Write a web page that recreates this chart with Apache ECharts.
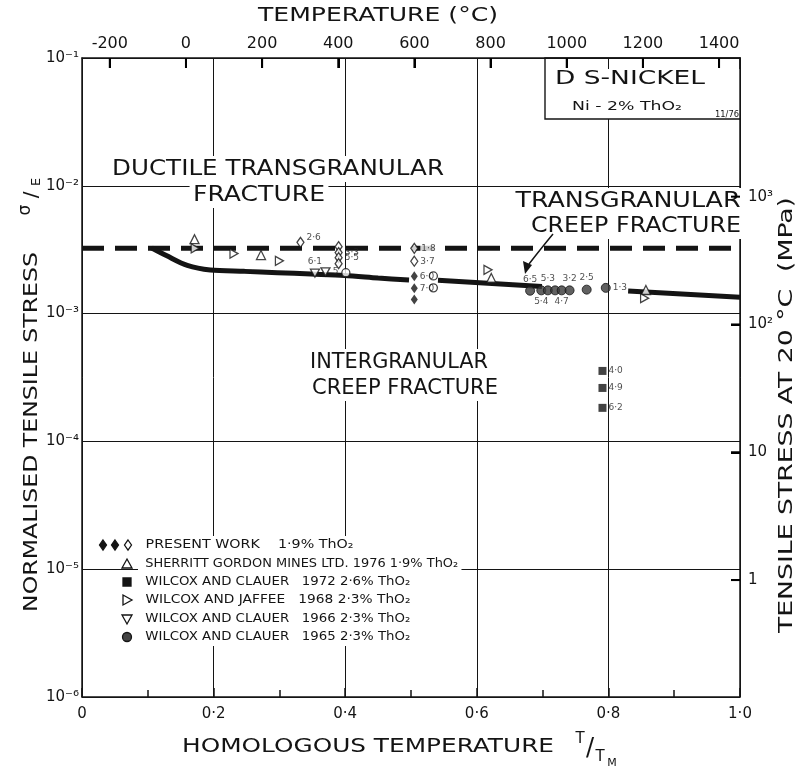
<!DOCTYPE html>
<html><head><meta charset="utf-8">
<script src="https://cdn.jsdelivr.net/npm/echarts@6/dist/echarts.min.js"></script>
<style>html,body{margin:0;padding:0;background:#fff}#c{width:807px;height:771px}</style>
</head><body><div id="c"></div>
<script>
// ---------------- DATA ----------------
const xTickValues = [0, 0.2, 0.4, 0.6, 0.8, 1.0];
const xTickLabels = ['0', '0·2', '0·4', '0·6', '0·8', '1·0'];
const leftExponents = [-6, -5, -4, -3, -2, -1];
const leftTickLabels = ['10⁻⁶', '10⁻⁵', '10⁻⁴', '10⁻³', '10⁻²', '10⁻¹'];
const tempTicks = [-200, 0, 200, 400, 600, 800, 1000, 1200, 1400];
const tempRange = [-273, 1455];            // 0 K .. melting point of Ni (°C)
const rightTicks = [1, 2, 3, 4];            // decades of MPa, counted from 0.1 MPa (1 + log10 MPa)
const rightTickLabels = ['1', '10', '10²', '10³'];
const rightRange = [0.085, 5.085];          // same span as 1e-6 .. 1e-1 on the left

const ductileLimit = [[0, 3.25e-3], [1.0, 3.25e-3]];
const creepBoundary = [
  [0.106, 3.26e-3], [0.129, 2.83e-3], [0.160, 2.38e-3], [0.195, 2.19e-3],
  [0.247, 2.14e-3], [0.297, 2.09e-3], [0.348, 2.04e-3], [0.399, 1.99e-3],
  [0.450, 1.90e-3], [0.497, 1.83e-3], [0.52, '-'], [0.541, 1.82e-3],
  [0.699, 1.63e-3], [0.76, '-'], [0.830, 1.50e-3], [1.0, 1.34e-3]
];

const presentOpen = [[0.332, 3.61e-3], [0.390, 3.34e-3], [0.390, 3.00e-3], [0.390, 2.74e-3],
                     [0.390, 2.46e-3], [0.505, 3.24e-3], [0.505, 2.57e-3]];
const presentOpenLabels = ['2·6', '', '3·3', '5·5', '', '1·8', '3·7'];
const presentFilled = [[0.505, 1.96e-3], [0.505, 1.58e-3], [0.505, 1.29e-3]];
const presentFilledLabels = ['6·0', '7·0', ''];
const openCircles = [[0.401, 2.09e-3], [0.534, 1.97e-3], [0.534, 1.59e-3]];

const sherritt1976 = [[0.171, 3.82e-3], [0.272, 2.87e-3], [0.622, 1.90e-3], [0.857, 1.53e-3]];
const jaffee1968 = [[0.172, 3.24e-3], [0.231, 2.95e-3], [0.300, 2.59e-3], [0.617, 2.20e-3], [0.855, 1.32e-3]];
const clauer1966 = [[0.354, 2.07e-3], [0.370, 2.12e-3]];
const clauer1966Labels = ['6·1', '5'];
const clauer1965 = [[0.681, 1.51e-3], [0.698, 1.52e-3], [0.708, 1.52e-3], [0.719, 1.52e-3],
                    [0.729, 1.52e-3], [0.741, 1.52e-3], [0.767, 1.54e-3], [0.796, 1.59e-3]];
const clauer1965Labels = ['6·5', '5·4', '5·3', '', '4·7', '3·2', '2·5', '1·3'];
const clauer1965LabelPos = ['top', 'bottom', 'top', 'top', 'bottom', 'top', 'top', 'right'];
const clauer1972 = [[0.791, 3.56e-4], [0.791, 2.62e-4], [0.791, 1.83e-4]];
const clauer1972Labels = ['4·0', '4·9', '6·2'];

const legendRows = [
  'PRESENT WORK    1·9% ThO₂',
  'SHERRITT GORDON MINES LTD. 1976 1·9% ThO₂',
  'WILCOX AND CLAUER   1972 2·6% ThO₂',
  'WILCOX AND JAFFEE   1968 2·3% ThO₂',
  'WILCOX AND CLAUER   1966 2·3% ThO₂',
  'WILCOX AND CLAUER   1965 2·3% ThO₂'
];

// ---------------- RENDER ----------------
const FONT = 'DejaVu Sans';
const INK = '#141414';
const chart = echarts.init(document.getElementById('c'));
const mctx = document.createElement('canvas').getContext('2d');
function fitScale(text, size, width, weight) {
  mctx.font = (weight || 'normal') + ' ' + size + 'px "' + FONT + '"';
  return width / mctx.measureText(text).width;
}
function txt(text, x, y, size, width, o) {
  o = o || {};
  const sx = width ? fitScale(text, size, width, o.weight) : 1;
  const style = {
    text: text, fontSize: size, fontFamily: FONT, fontWeight: o.weight || 'normal', fill: INK,
    align: o.align || 'center', verticalAlign: 'middle'
  };
  if (o.bg) { style.backgroundColor = '#fff'; style.padding = [2, 3]; }
  return { type: 'text', x: x, y: y, rotation: o.rot || 0, scaleX: sx, z: 10, style: style };
}
function items(pairs, labels, positions) {
  return pairs.map((p, i) => {
    const t = labels ? labels[i] : '';
    const it = { value: p };
    if (t) it.label = { show: true, formatter: t, position: positions ? positions[i] : 'right' };
    return it;
  });
}
const ptLabel = { fontSize: 9, fontFamily: FONT, color: '#222', distance: 2 };
const openStyle = { color: '#fff', borderColor: INK, borderWidth: 1.3 };
const RIGHT_TRI = 'path://M0,0L10,6L0,12Z';
const DOWN_TRI = 'path://M0,0L12,0L6,10Z';

const openItems = items(presentOpen, presentOpenLabels);
openItems[0].label.offset = [0, -5];
openItems[5].label.backgroundColor = '#fff';
openItems[5].label.padding = [1, 4, 1, 1];

const legendY = [545, 564, 582, 600, 619, 637];
const legendW = [208, 313, 265, 265, 265, 265];
const graphics = [];
graphics.push({ type: 'rect', z: 9, shape: { x: 138, y: 536, width: 276, height: 110 }, style: { fill: '#fff' } });
legendRows.forEach((r, i) => {
  graphics.push(txt(r, 142, legendY[i], 12, legendW[i], { align: 'left', bg: true }));
});
const sym = (shape, type, fill) => ({ type: type, z: 11, shape: shape, style: { fill: fill, stroke: INK, lineWidth: 1.3 } });
const dia = (cx, cy, fill) => sym({ points: [[cx, cy - 5], [cx + 3.5, cy], [cx, cy + 5], [cx - 3.5, cy]] }, 'polygon', fill);
graphics.push(dia(103, legendY[0], INK), dia(115, legendY[0], INK), dia(128, legendY[0], '#fff'));
graphics.push(sym({ points: [[127, legendY[1] - 5], [132, legendY[1] + 4], [122, legendY[1] + 4]] }, 'polygon', '#fff'));
graphics.push(sym({ x: 123, y: legendY[2] - 4, width: 8, height: 8 }, 'rect', INK));
graphics.push(sym({ points: [[123, legendY[3] - 5], [132, legendY[3]], [123, legendY[3] + 5]] }, 'polygon', '#fff'));
graphics.push(sym({ points: [[122, legendY[4] - 4], [132, legendY[4] - 4], [127, legendY[4] + 5]] }, 'polygon', '#fff'));
graphics.push(sym({ cx: 127, cy: legendY[5], r: 4.5 }, 'circle', '#444'));

graphics.push(txt('DUCTILE TRANSGRANULAR', 278, 169, 22, 332, { bg: true }));
graphics.push(txt('FRACTURE', 259, 195, 22, 132, { bg: true }));
graphics.push(txt('TRANSGRANULAR', 628, 201, 22, 225, { bg: true }));
graphics.push(txt('CREEP FRACTURE', 636, 226, 22, 210, { bg: true }));
graphics.push(txt('INTERGRANULAR', 399, 362, 22, 178, { bg: true }));
graphics.push(txt('CREEP FRACTURE', 405, 388, 22, 186, { bg: true }));
graphics.push({ type: 'bezierCurve', z: 10, shape: { x1: 553, y1: 234, cpx1: 543, cpy1: 246, x2: 529, y2: 264 },
  style: { stroke: INK, lineWidth: 1.5, fill: null } });
graphics.push({ type: 'polygon', z: 10, shape: { points: [[525, 274], [523, 261], [532, 265]] }, style: { fill: INK } });
graphics.push({ type: 'rect', z: 9, shape: { x: 545, y: 69, width: 195, height: 50 }, style: { fill: '#fff' } });
graphics.push({ type: 'rect', z: 10, shape: { x: 545, y: 58, width: 195, height: 61 }, style: { fill: null, stroke: INK, lineWidth: 1.4 } });
graphics.push(txt('D S-NICKEL', 630, 79, 20, 150));
graphics.push(txt('Ni - 2% ThO₂', 627, 107, 13, 110));
graphics.push(txt('11/76', 727, 115, 8, 24));
graphics.push(txt('TEMPERATURE (°C)', 378, 16, 19, 240));
graphics.push(txt('HOMOLOGOUS TEMPERATURE', 368, 747, 20, 372));
graphics.push(txt('T', 580, 739, 15, 0));
graphics.push(txt('/', 590, 749, 24, 0));
graphics.push(txt('T', 600, 757, 15, 0));
graphics.push(txt('M', 612, 763, 11, 0));
graphics.push(txt('NORMALISED TENSILE STRESS', 32, 432, 20, 360, { rot: Math.PI / 2 }));
graphics.push(txt('σ', 26, 210, 17, 0, { rot: Math.PI / 2 }));
graphics.push(txt('/', 32, 195, 20, 0, { rot: Math.PI / 2 }));
graphics.push(txt('E', 37, 182, 13, 0, { rot: Math.PI / 2 }));
graphics.push(txt('TENSILE STRESS AT 20 °C  (MPa)', 787, 415, 20, 436, { rot: Math.PI / 2 }));

const lineStyleAxis = { color: INK, width: 1.5 };
const option = {
  backgroundColor: '#fff',
  animation: false,
  grid: { left: 82, right: 67, top: 58, bottom: 74, show: false },
  xAxis: [{
    type: 'value', position: 'bottom', min: 0, max: 1, interval: 0.2,
    axisLine: { show: true, lineStyle: lineStyleAxis },
    axisTick: { show: true, inside: true, length: 9, lineStyle: { color: INK, width: 1.5 } },
    minorTick: { show: true, splitNumber: 2, length: 7, lineStyle: { color: INK, width: 1.5 } },
    axisLabel: { margin: 10, fontSize: 15, fontFamily: FONT, color: INK,
      formatter: v => { const i = xTickValues.findIndex(t => Math.abs(t - v) < 1e-6); return i >= 0 ? xTickLabels[i] : ''; } },
    splitLine: { show: true, lineStyle: { color: INK, width: 1 } }
  }, {
    type: 'value', position: 'top', min: tempRange[0], max: tempRange[1],
    axisLine: { show: true, lineStyle: lineStyleAxis },
    axisTick: { show: true, inside: true, length: 10, customValues: tempTicks, lineStyle: { color: '#000', width: 2 } },
    axisLabel: { margin: 6, fontSize: 16, fontFamily: FONT, color: INK, customValues: tempTicks,
      formatter: v => String(Math.round(v)) },
    splitLine: { show: false }
  }],
  yAxis: [{
    type: 'log', logBase: 10, min: 1e-6, max: 1e-1, position: 'left',
    axisLine: { show: true, onZero: false, lineStyle: lineStyleAxis },
    axisTick: { show: false },
    axisLabel: { margin: 3, fontSize: 15, fontFamily: FONT, color: INK,
      formatter: v => { const e = Math.round(Math.log10(v)); const i = leftExponents.indexOf(e); return i >= 0 ? leftTickLabels[i] : ''; } },
    splitLine: { show: true, lineStyle: { color: INK, width: 1 } }
  }, {
    type: 'value', min: rightRange[0], max: rightRange[1], position: 'right',
    axisLine: { show: true, onZero: false, lineStyle: lineStyleAxis },
    axisTick: { show: true, inside: true, length: 9, customValues: rightTicks, lineStyle: { color: '#000', width: 2 } },
    axisLabel: { margin: 8, fontSize: 15, fontFamily: FONT, color: INK, customValues: rightTicks,
      formatter: v => { const i = rightTicks.findIndex(t => Math.abs(t - v) < 1e-6); return i >= 0 ? rightTickLabels[i] : ''; } },
    splitLine: { show: false }
  }],
  graphic: { elements: graphics },
  series: [
    { name: 'ductile limit', type: 'line', data: ductileLimit, symbol: 'none', z: 2,
      lineStyle: { color: INK, width: 5, type: [22, 11], cap: 'butt' } },
    { name: 'creep boundary', type: 'line', data: creepBoundary, symbol: 'none', smooth: 0.3,
      connectNulls: false, z: 2, lineStyle: { color: INK, width: 5 } },
    { name: 'Present work (open)', type: 'scatter', data: openItems, symbol: 'diamond', symbolSize: [7, 10],
      itemStyle: openStyle, label: ptLabel, z: 4 },
    { name: 'Present work (filled)', type: 'scatter', data: items(presentFilled, presentFilledLabels), symbol: 'diamond',
      symbolSize: [7, 10], itemStyle: { color: INK }, label: ptLabel, z: 4 },
    { name: 'open circles', type: 'scatter', data: openCircles, symbol: 'circle', symbolSize: 8, itemStyle: openStyle, z: 4 },
    { name: 'Sherritt Gordon Mines 1976', type: 'scatter', data: sherritt1976, symbol: 'triangle', symbolSize: [9, 9],
      itemStyle: openStyle, z: 4 },
    { name: 'Wilcox and Jaffee 1968', type: 'scatter', data: jaffee1968, symbol: RIGHT_TRI, symbolSize: [8, 9],
      itemStyle: openStyle, z: 4 },
    { name: 'Wilcox and Clauer 1966', type: 'scatter', data: items(clauer1966, clauer1966Labels, ['top', 'right']),
      symbol: DOWN_TRI, symbolSize: [9, 8], itemStyle: openStyle, label: ptLabel, z: 4 },
    { name: 'Wilcox and Clauer 1965', type: 'scatter', data: items(clauer1965, clauer1965Labels, clauer1965LabelPos),
      symbol: 'circle', symbolSize: 9, itemStyle: { color: '#3a3a3a', borderColor: INK, borderWidth: 1 }, label: ptLabel, z: 4 },
    { name: 'Wilcox and Clauer 1972', type: 'scatter', data: items(clauer1972, clauer1972Labels), symbol: 'rect',
      symbolSize: 8, itemStyle: { color: INK }, label: ptLabel, z: 4 }
  ]
};
chart.setOption(option);

// backup tick marks for the secondary scales, positioned through the axes' own scales
try {
  const topY = chart.convertToPixel({ yAxisIndex: 0 }, 1e-1);
  const rightX = chart.convertToPixel({ xAxisIndex: 0 }, 1);
  const tickEls = [];
  tempTicks.forEach(t => {
    const x = chart.convertToPixel({ xAxisIndex: 1 }, t);
    tickEls.push({ type: 'line', z: 100, zlevel: 1, shape: { x1: x, y1: topY, x2: x, y2: topY + 10 }, style: { stroke: '#000', lineWidth: 2 } });
  });
  rightTicks.forEach(v => {
    const y = chart.convertToPixel({ yAxisIndex: 1 }, v);
    tickEls.push({ type: 'line', z: 100, zlevel: 1, shape: { x1: rightX - 9, y1: y, x2: rightX, y2: y }, style: { stroke: '#000', lineWidth: 2 } });
  });
  chart.setOption({ graphic: { elements: graphics.concat(tickEls) } });
} catch (e) {}
</script></body></html>
